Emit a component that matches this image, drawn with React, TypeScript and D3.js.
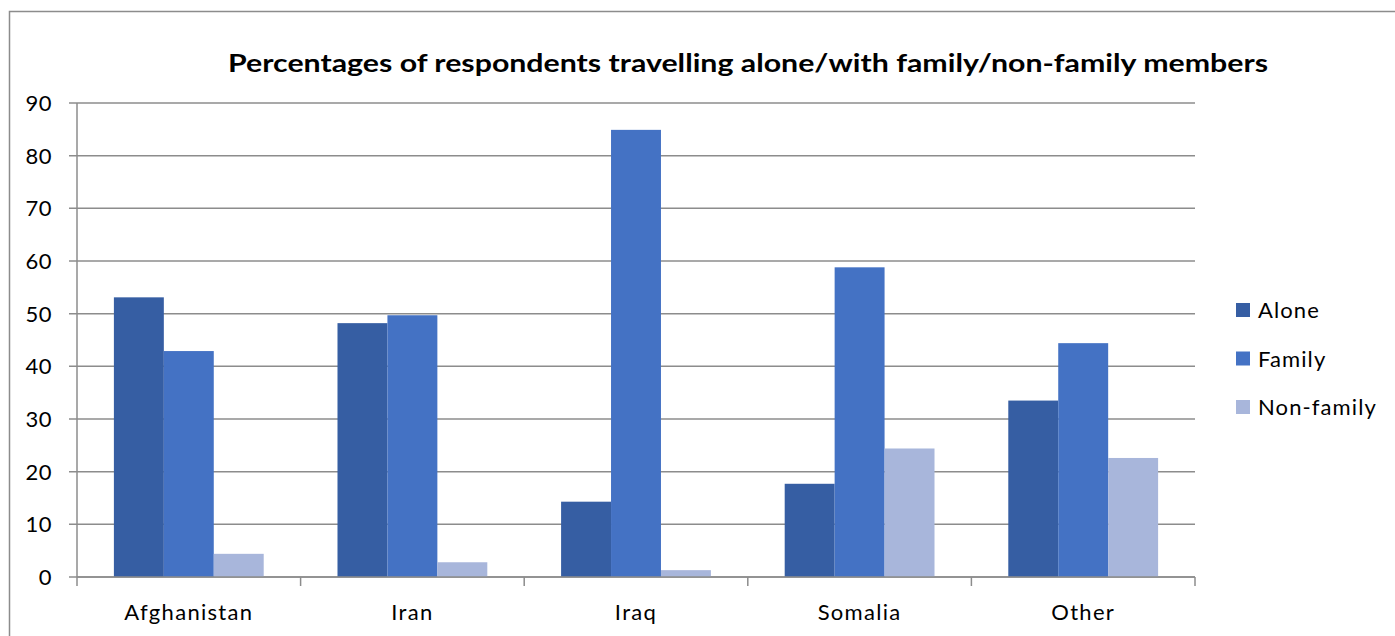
import React from "react";
import * as d3 from "d3";

const categories = ["Afghanistan", "Iran", "Iraq", "Somalia", "Other"];
const seriesNames = ["Alone", "Family", "Non-family"];
const alone = [53.1, 48.2, 14.3, 17.7, 33.5];
const family = [42.9, 49.7, 84.9, 58.8, 44.4];
const nonFamily = [4.4, 2.8, 1.3, 24.4, 22.6];
const yTicks = [0, 10, 20, 30, 40, 50, 60, 70, 80, 90];
const colors = ["#365EA3", "#4472C4", "#A8B6DB"];
const title = "Percentages of respondents travelling alone/with family/non-family members";

export default function App() {
  const W = 1395, H = 636;
  const left = 77, right = 1195, top = 103, bottom = 577;
  const y = d3.scaleLinear().domain([0, 90]).range([bottom, top]);
  const x0 = d3.scaleBand().domain(categories).range([left, right]).paddingInner(0.33).paddingOuter(0.165);
  const x1 = d3.scaleBand().domain(seriesNames).range([0, x0.bandwidth()]);
  const step = (right - left) / categories.length;
  const data = [alone, family, nonFamily];
  const grid = "#8c8c8c";
  const font = "Lato, 'Open Sans', sans-serif";
  return (
    <svg width={W} height={H} style={{ position: "absolute", left: 0, top: 0 }}>
      <rect x={0} y={0} width={W} height={H} fill="#fff" />
      <rect x={9.5} y={11.5} width={W + 20} height={H + 20} fill="none" stroke="#8c8c8c" strokeWidth={1.5} />
      <text x={748} y={72} textAnchor="middle" fontFamily={font} fontWeight="bold" fontSize={25} textLength={1040} lengthAdjust="spacingAndGlyphs" fill="#000">{title}</text>
      {yTicks.map((t) => (
        <g key={t}>
          <line x1={69} x2={right} y1={y(t)} y2={y(t)} stroke={grid} strokeWidth={1.5} />
          <text x={52} y={y(t) + 8} textAnchor="end" fontFamily={font} fontSize={22} letterSpacing={0.5} fill="#000">{t}</text>
        </g>
      ))}
      {categories.map((c, i) => (
        <line key={c} x1={left + step * (i + 1)} x2={left + step * (i + 1)} y1={bottom} y2={bottom + 9} stroke={grid} strokeWidth={1.5} />
      ))}
      <line x1={left} x2={left} y1={top} y2={bottom + 9} stroke={grid} strokeWidth={1.5} />
      {categories.map((c, i) => (
        <g key={c}>
          {seriesNames.map((s, j) => (
            <rect key={s} x={(x0(c) as number) + (x1(s) as number)} y={y(data[j][i])} width={x1.bandwidth()} height={bottom - y(data[j][i])} fill={colors[j]} />
          ))}
          <text x={(x0(c) as number) + x0.bandwidth() / 2} y={620} textAnchor="middle" fontFamily={font} fontSize={22} letterSpacing={1.3} fill="#000">{c}</text>
        </g>
      ))}
      <line x1={left} x2={right} y1={bottom} y2={bottom} stroke={grid} strokeWidth={1.5} />
      {seriesNames.map((s, j) => (
        <g key={s}>
          <rect x={1236} y={303 + j * 48.5} width={14} height={14} fill={colors[j]} />
          <text x={1258} y={318 + j * 48.5} fontFamily={font} fontSize={22} letterSpacing={1.1} fill="#000">{s}</text>
        </g>
      ))}
    </svg>
  );
}
